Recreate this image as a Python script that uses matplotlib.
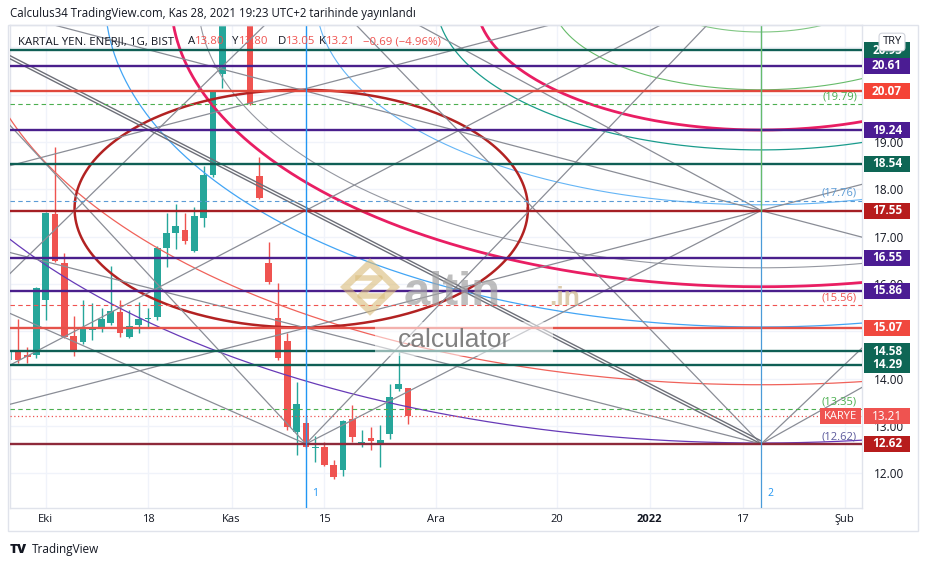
import numpy as np
import matplotlib.pyplot as plt
import matplotlib.transforms as mtransforms
from matplotlib.patches import Rectangle, Polygon

plt.rcParams['font.family'] = ['Open Sans', 'DejaVu Sans']

W, H = 930, 568   # output size in pixels

# ===========================================================
# Daily candles (bar index 0 = 1 Oct 2021, trading days only)
# ===========================================================
bar_idx = list(range(-4, 40))
opens = [14.39, 14.60, 14.50, 14.50, 15.66, 17.48, 16.44, 14.90, 14.77, 15.03,
         15.07, 15.17, 15.41, 14.88, 15.13, 15.26, 15.30, 16.75, 17.07, 17.14,
         16.70, 17.40, 18.30, 20.43, 21.60, 22.90, 22.20, 18.28, 16.45, 15.27,
         14.79, 12.88, 13.06, 12.54, 12.55, 12.18, 12.08, 13.14, 12.64, 12.74,
         12.63, 12.83, 13.77, 13.80]
highs = [14.62, 15.26, 14.67, 15.93, 17.52, 18.89, 16.65, 15.32, 15.66, 15.60,
         15.49, 16.38, 15.66, 15.45, 15.62, 15.49, 16.79, 17.49, 17.68, 17.49,
         17.63, 18.49, 20.10, 21.80, 23.40, 23.60, 22.40, 18.69, 16.89, 16.01,
         14.96, 13.93, 13.18, 12.79, 12.67, 12.28, 13.13, 13.44, 12.91, 12.98,
         13.02, 13.89, 14.57, 13.80]
lows = [14.35, 14.33, 14.33, 14.43, 15.24, 16.46, 14.86, 14.48, 14.73, 14.82,
        14.99, 15.13, 14.88, 14.86, 14.96, 15.09, 15.24, 16.36, 16.74, 16.84,
        16.68, 17.21, 18.26, 20.13, 21.55, 22.00, 19.77, 17.80, 16.00, 14.40,
        12.91, 12.39, 12.53, 12.24, 12.16, 11.87, 11.94, 12.67, 12.56, 12.49,
        12.13, 12.72, 13.74, 13.05]
closes = [14.58, 14.39, 14.46, 15.91, 17.50, 16.48, 14.88, 14.58, 15.07, 15.05,
          15.26, 15.43, 14.96, 15.11, 15.26, 15.27, 16.76, 17.07, 17.22, 16.91,
          17.43, 18.30, 20.09, 21.60, 22.90, 22.40, 19.79, 17.82, 16.03, 14.43,
          12.98, 13.46, 12.55, 12.56, 12.18, 11.92, 13.11, 12.77, 12.65, 12.69,
          12.70, 13.61, 13.89, 13.21]

# time axis labels
tick_idx = [0, 11, 20, 30, 42, 55, 65, 75, 86]
tick_text = ['Eki', '18', 'Kas', '15', 'Ara', '20', '2022', '17', 'Şub']
grid_prices = list(range(12, 22))
# price ticks not hidden behind the level labels
price_ticks = [12, 13, 14, 16, 17, 18, 19]

# ===========================================================
# Drawings
# ===========================================================
level_prices = [20.93, 20.61, 20.07, 19.24, 18.54, 17.55, 16.55, 15.86, 15.07, 14.58, 14.29, 12.62]
level_line_colors = ['#0f5f55', '#4a1f8c', '#e0483c', '#4a1f8c', '#0f5f55', '#a51f24',
                     '#4a1f8c', '#4a1f8c', '#e5534b', '#0f5f55', '#0f5f55', '#8e2a3a']
level_box_colors = ['#0e6655', '#4b1c93', '#f44336', '#4b1c93', '#0e6655', '#b71c1c',
                    '#4b1c93', '#4b1c93', '#f0483e', '#0e6655', '#0e6655', '#b71c1c']

dashed_prices = [19.79, 17.76, 15.56, 13.35]
dashed_colors = ['#4caf50', '#5b9bd5', '#ef5350', '#4caf50']
note_prices = [19.79, 17.76, 15.56, 13.35, 12.62]
note_colors = ['#4caf50', '#5b9bd5', '#ef5350', '#4caf50', '#5c5a9c']

last_price = 13.21
vline_idx = [28, 77]
vline_names = ['1', '2']

# concentric fib arcs around (bar 77, 22.0)
arc_center = (77, 22.0)
arc_half_w = [10.7, 22.5, 30.7, 35.0, 47.9, 60.6, 63.5, 70.6, 85.0, 96.1]
arc_half_h = [0.68, 1.90, 2.75, 3.17, 4.33, 5.66, 6.06, 6.91, 8.13, 9.36]
arc_colors = ['#81c784', '#66bb6a', '#e91e63', '#1a9c8c', '#64b5f6',
              '#9598a1', '#e91e63', '#42a5f5', '#f0625a', '#673ab7']
arc_widths = [0.8, 0.8, 2.0, 0.9, 0.8, 0.8, 2.0, 0.9, 0.9, 0.9]

# big ellipse
ell_center = (27.5, 17.59)
ell_half_w = 24.4
ell_half_h = 2.51

# straight trend lines: (bar0, price0, bar1, price1)
trend_lines = [
    (28, 12.62, 77, 17.55),
    (28, 12.62, 71.2, 21.47),
    (33.4, 21.47, 77, 12.62),
    (40.1, 21.47, 77, 17.55),
    (-4, 18.49, 54.3, 21.47),
    (-4, 21.72, 88, 16.98),
    (-4, 13.45, 88, 18.11),
    (-4, 16.67, 77, 12.62),
    (-4, 14.27, 66.2, 21.47),
    (-4, 16.19, 23.6, 21.47),
    (-4, 19.38, 28, 12.62),
    (-4, 15.39, 28, 12.62),
    (77, 12.62, 88, 14.67),
    (77, 12.62, 88, 13.83),
]
double_line = (-4, 20.77, 77, 12.62)

# ===========================================================
# Figure
# ===========================================================
fig = plt.figure(figsize=(W / 100, H / 100), dpi=100)
fig.patch.set_facecolor('white')


def fx(px):
    return px / W


def fy(py):
    return 1 - py / H


# outer panel border
fig.patches.append(Rectangle((fx(8), fy(531)), fx(918) - fx(8), fy(25) - fy(531),
                             transform=fig.transFigure, fill=False, ec='#e0e3eb', lw=1))

ax = fig.add_axes([fx(10), fy(508), fx(862) - fx(10), fy(25) - fy(508)])
ax.set_xlim(-3.85, 87.86)
ax.set_ylim(11.267, 21.468)
for s in ax.spines.values():
    s.set_color('#e0e3eb')
    s.set_linewidth(1)

# grid
for t in tick_idx:
    ax.axvline(t, color='#f0f3fa', lw=1, zorder=0)
for p in grid_prices:
    ax.axhline(p, color='#f0f3fa', lw=1, zorder=0)

# candles
bar_idx_a = np.array(bar_idx)
o, h, l, c = map(np.array, (opens, highs, lows, closes))
up = c >= o
col = np.where(up, '#26a69a', '#ef5350')
ax.vlines(bar_idx_a, l, h, colors=col, lw=1, zorder=2)
body_h = np.maximum(np.abs(c - o), 0.025)
ax.bar(bar_idx_a, body_h, bottom=np.minimum(o, c), width=0.72, color=col, zorder=2)

# arcs
t = np.linspace(np.pi, 2 * np.pi, 600)
for a, b, cl, lw in zip(arc_half_w, arc_half_h, arc_colors, arc_widths):
    ax.plot(arc_center[0] + a * np.cos(t), arc_center[1] + b * np.sin(t),
            color=cl, lw=lw, zorder=3)

# ellipse
t2 = np.linspace(0, 2 * np.pi, 600)
ax.plot(ell_center[0] + ell_half_w * np.cos(t2), ell_center[1] + ell_half_h * np.sin(t2),
        color='#b22222', lw=1.8, zorder=3)

# trend lines
for x0, y0, x1, y1 in trend_lines:
    ax.plot([x0, x1], [y0, y1], color='#8a8d96', lw=0.9, zorder=3)
x0, y0, x1, y1 = double_line
for off in (0.0, 0.065):
    ax.plot([x0, x1], [y0 + off, y1 + off], color='#6d6f78', lw=1.0, zorder=3)

# horizontal levels
for p, cl in zip(level_prices, level_line_colors):
    ax.axhline(p, color=cl, lw=1.7, zorder=4)
for p, cl in zip(dashed_prices, dashed_colors):
    ax.axhline(p, color=cl, lw=0.8, ls=(0, (4, 3)), zorder=4)
ax.axhline(last_price, color='#ef5350', lw=0.9, ls=(0, (1, 2)), zorder=4)

# vertical lines
ax.axvline(vline_idx[0], color='#2196f3', lw=1, zorder=4)
ax.axvline(vline_idx[1], color='#4a9bd8', lw=0.9, zorder=4)
ax.plot([vline_idx[1], vline_idx[1]], [17.55, 21.5], color='#66bb6a', lw=0.9, zorder=4)
bt = mtransforms.blended_transform_factory(ax.transData, ax.transAxes)
for xi, nm in zip(vline_idx, vline_names):
    ax.text(xi + 0.7, 0.029, nm, transform=bt, color='#2196f3', fontsize=7.5,
            va='center', ha='left', zorder=6)

# notes above dashed levels
rt = mtransforms.blended_transform_factory(fig.transFigure, ax.transData)
for p, cl in zip(note_prices, note_colors):
    ax.text(fx(857), p + 0.15, f'({p:.2f})', transform=rt, color=cl, fontsize=8,
            ha='right', va='center', zorder=6)

# watermark
fig.patches.append(Rectangle((fx(375), fy(356)), fx(553) - fx(375), fy(322) - fy(356),
                             transform=fig.transFigure, fc='white', ec='none', alpha=0.55,
                             zorder=5))
icon = [(fx(370), fy(263)), (fx(395), fy(287)), (fx(370), fy(311)), (fx(345), fy(287))]
fig.patches.append(Polygon(icon, closed=True, transform=fig.transFigure, fill=False,
                           ec='#d9bc7a', lw=5, alpha=0.6, zorder=5))
fig.lines.append(plt.Line2D([fx(358), fx(380), fx(360), fx(382)],
                            [fy(278), fy(278), fy(296), fy(296)],
                            transform=fig.transFigure, color='#d9bc7a', lw=4, alpha=0.6,
                            zorder=5))
fig.text(fx(404), fy(305), 'altin', fontsize=34, fontweight='bold', color='#a3a3a3',
         alpha=0.7, ha='left', va='baseline', family=['Liberation Sans', 'DejaVu Sans'], zorder=5)
fig.text(fx(549), fy(305), '.in', fontsize=19, fontweight='bold', color='#cdb68a',
         alpha=0.7, ha='left', va='baseline', family=['Liberation Sans', 'DejaVu Sans'], zorder=5)
fig.text(fx(398), fy(347), 'calculator', fontsize=19, color='#6b6b6b', alpha=0.85,
         ha='left', va='baseline', family=['Liberation Sans', 'DejaVu Sans'], zorder=5)

# price axis
ax.yaxis.tick_right()
ax.set_yticks(price_ticks)
ax.set_yticklabels([f'{v:.2f}' for v in price_ticks])
ax.tick_params(axis='y', length=0, pad=8.5, labelsize=8.5, labelcolor='#131722')
ax.set_xticks(tick_idx)
ax.set_xticklabels(tick_text)
ax.tick_params(axis='x', length=0, pad=4, labelsize=8, labelcolor='#131722')
ax.get_xticklabels()[6].set_fontweight('bold')

# price labels on the axis: fixed-size boxes
box_h = 16 / 47.35


def axis_box(price, text, fc, bold=True):
    ax.add_patch(Rectangle((fx(864), price - box_h / 2), fx(910) - fx(864), box_h,
                           transform=rt, fc=fc, ec='none', zorder=7, clip_on=False))
    ax.text(fx(887), price, text, transform=rt, color='white', fontsize=8.5,
            fontweight='bold' if bold else 'normal', ha='center', va='center',
            zorder=8, clip_on=False)


for p, cl in zip(level_prices, level_box_colors):
    axis_box(p, f'{p:.2f}', cl)
axis_box(last_price, f'{last_price:.2f}', '#ef5350', bold=False)

ax.add_patch(Rectangle((fx(820), last_price - box_h / 2), fx(861) - fx(820), box_h,
                       transform=rt, fc='#ef5350', ec='none', zorder=7, clip_on=False))
ax.text(fx(840.5), last_price, 'KARYE', transform=rt, color='white', fontsize=8,
        ha='center', va='center', zorder=8, clip_on=False)
fig.text(fx(892), fy(42), 'TRY', fontsize=8, color='#131722', ha='center', va='center',
         zorder=9, bbox=dict(boxstyle='round,pad=0.3', fc='white', ec='#d1d4dc', lw=0.8))

# header texts
fig.text(fx(10), fy(14), 'Calculus34 TradingView.com, Kas 28, 2021 19:23 UTC+2 tarihinde yayınlandı',
         fontsize=8.3, color='#131722', ha='left', va='center')
hdr = [(18, 'KARTAL YEN. ENERJI, 1G, BIST', '#131722'),
       (188, 'A', '#131722'), (195, '13.80', '#ef5350'),
       (232, 'Y', '#131722'), (239, '13.80', '#ef5350'),
       (278, 'D', '#131722'), (286, '13.05', '#ef5350'),
       (319, 'K', '#131722'), (326, '13.21', '#ef5350'),
       (363, '−0.69 (−4.96%)', '#ef5350')]
for px, s, cl in hdr:
    fig.text(fx(px), fy(42), s, fontsize=8.2, color=cl, ha='left', va='center', zorder=9)

# footer logo
fig.text(fx(10), fy(550), 'TV', fontsize=9.5, fontweight='heavy', color='#131722',
         ha='left', va='center')
fig.text(fx(32), fy(550), 'TradingView', fontsize=8.5, color='#131722', ha='left', va='center')

fig.savefig('out.png', dpi=100)
